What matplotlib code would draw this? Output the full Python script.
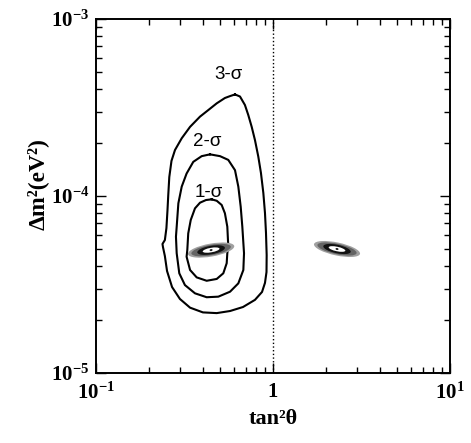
import matplotlib
matplotlib.use("Agg")
import matplotlib.pyplot as plt
from matplotlib.patches import Ellipse
from matplotlib.transforms import ScaledTranslation

plt.rcParams['font.family'] = ['Liberation Serif', 'DejaVu Serif']
plt.rcParams['mathtext.fontset'] = 'custom'
plt.rcParams['mathtext.rm'] = 'Liberation Serif'
plt.rcParams['mathtext.it'] = 'Liberation Serif:italic'
plt.rcParams['mathtext.bf'] = 'Liberation Serif:bold'

# contours (tan^2 theta, delta m^2 in eV^2)
s3_x = [0.610, 0.651, 0.694, 0.725, 0.758, 0.791, 0.826, 0.855, 0.882, 0.901,
        0.913, 0.921, 0.919, 0.901, 0.867, 0.791, 0.677, 0.572, 0.481, 0.402,
        0.340, 0.298, 0.269, 0.252, 0.245, 0.239, 0.2375, 0.245, 0.250, 0.2535,
        0.256, 0.2595, 0.267, 0.2795, 0.305, 0.340, 0.387, 0.431, 0.481, 0.535,
        0.572, 0.610]
s3_y = [3.75e-4, 3.65e-4, 3.27e-4, 2.87e-4, 2.46e-4, 2.07e-4, 1.67e-4, 1.35e-4,
        1.04e-4, 8.02e-5, 6.18e-5, 4.64e-5, 3.72e-5, 3.23e-5, 2.87e-5, 2.59e-5,
        2.36e-5, 2.24e-5, 2.18e-5, 2.20e-5, 2.34e-5, 2.62e-5, 3.06e-5, 3.77e-5,
        4.58e-5, 5.15e-5, 5.36e-5, 5.64e-5, 6.59e-5, 8.33e-5, 1.01e-4, 1.28e-4,
        1.58e-4, 1.82e-4, 2.12e-4, 2.46e-4, 2.81e-4, 3.06e-4, 3.34e-4, 3.58e-4,
        3.67e-4, 3.75e-4]

s2_x = [0.4405, 0.502, 0.559, 0.610, 0.637, 0.657, 0.671, 0.686, 0.680, 0.637,
        0.572, 0.491, 0.422, 0.3625, 0.318, 0.2955, 0.2857, 0.283, 0.2857, 0.292,
        0.305, 0.325, 0.3545, 0.3955, 0.4405]
s2_y = [1.72e-4, 1.68e-4, 1.60e-4, 1.40e-4, 1.13e-4, 8.70e-5, 6.71e-5, 4.75e-5,
        3.82e-5, 3.21e-5, 2.88e-5, 2.70e-5, 2.68e-5, 2.82e-5, 3.14e-5, 3.66e-5,
        4.75e-5, 5.89e-5, 6.71e-5, 9.10e-5, 1.13e-4, 1.34e-4, 1.56e-4, 1.68e-4,
        1.72e-4]

s1_x = [0.450, 0.481, 0.513, 0.535, 0.552, 0.559, 0.552, 0.5475, 0.524, 0.481,
        0.422, 0.3706, 0.340, 0.325, 0.328, 0.332, 0.343, 0.3625, 0.387, 0.418,
        0.450]
s1_y = [9.58e-5, 9.40e-5, 8.90e-5, 7.99e-5, 6.71e-5, 5.17e-5, 4.75e-5, 4.17e-5,
        3.66e-5, 3.40e-5, 3.32e-5, 3.47e-5, 3.82e-5, 4.54e-5, 4.95e-5, 6.15e-5,
        7.32e-5, 8.52e-5, 9.17e-5, 9.49e-5, 9.58e-5]

label_text = ['3-σ', '2-σ', '1-σ']
label_x = [0.557, 0.427, 0.432]
label_y = [4.83e-4, 2.03e-4, 1.05e-4]

best_x = [0.447, 2.30]
best_y = [4.95e-5, 5.02e-5]
best_angle = [10, -12]

fig = plt.figure(figsize=(4.71, 4.43), dpi=100)
ax = fig.add_axes([0.2038, 0.158, 0.7516, 0.799])
ax.set_xscale('log')
ax.set_yscale('log')
ax.set_xlim(0.1, 10)
ax.set_ylim(1e-5, 1e-3)

for xs, ys in [(s3_x, s3_y), (s2_x, s2_y), (s1_x, s1_y)]:
    ax.plot(xs, ys, color='black', linewidth=1.5, solid_joinstyle='round')

ax.axvline(1.0, color='black', linestyle=':', linewidth=1.0)

# best-fit islands: layered ellipses (sizes in inches)
layers = [(0.47, 0.13, '#a0a0a0'), (0.40, 0.105, '#646464'), (0.28, 0.085, '#111111'),
          (0.17, 0.045, 'white'), (0.03, 0.02, '#222222')]
for bx, by, ang in zip(best_x, best_y, best_angle):
    tr = fig.dpi_scale_trans + ScaledTranslation(bx, by, ax.transData)
    for w, h, c in layers:
        ax.add_patch(Ellipse((0, 0), w, h, angle=ang, transform=tr,
                             facecolor=c, edgecolor='none', zorder=3))

for t, lx, ly in zip(label_text, label_x, label_y):
    ax.text(lx, ly, t, fontsize=13.5, ha='center', va='center',
            family=['Liberation Sans', 'DejaVu Sans'])

ax.set_xticks([0.1, 1, 10])
ax.set_xticklabels([r'$\mathbf{10^{-1}}$', r'$\mathbf{1}$', r'$\mathbf{10^{1}}$'])
ax.set_yticks([1e-5, 1e-4, 1e-3])
ax.set_yticklabels([r'$\mathbf{10^{-5}}$', r'$\mathbf{10^{-4}}$', r'$\mathbf{10^{-3}}$'])
ax.tick_params(which='both', direction='in', top=True, right=True, labelsize=15, width=1.0)
ax.tick_params(which='major', length=7)
ax.tick_params(which='minor', length=4)
ax.tick_params(axis='x', which='major', pad=7)
ax.tick_params(axis='y', which='major', pad=5)
for sp in ax.spines.values():
    sp.set_linewidth(1.4)

ax.set_xlabel('tan²θ', fontsize=16, fontweight='bold', labelpad=4)
ax.set_ylabel('Δm²(eV²)', fontsize=17, fontweight='bold')
ax.yaxis.set_label_coords(-0.135, 0.535)

fig.savefig('out.png', dpi=100)
